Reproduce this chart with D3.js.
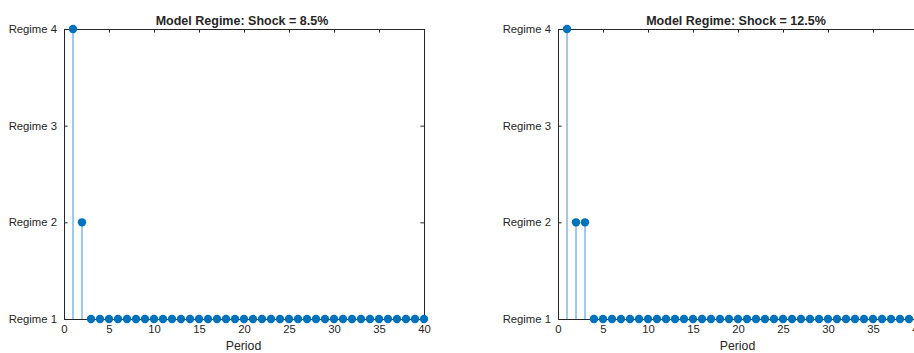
<!DOCTYPE html>
<html>
<head>
<meta charset="utf-8">
<script src="https://cdn.jsdelivr.net/npm/d3@7"></script>
<style>
  html, body { margin: 0; padding: 0; background: #fff; }
  svg { display: block; }
  text { font-family: "Liberation Sans", Arial, Helvetica, sans-serif; fill: #262626; }
</style>
</head>
<body>
<svg id="chart" width="914" height="353"></svg>
<script>
// Regime paths for each shock scenario (period 1..40)
const periods = d3.range(1, 41);
const regimeShock85 = [4, 2, 1, 1, 1, 1, 1, 1, 1, 1, 1, 1, 1, 1, 1, 1, 1, 1, 1, 1,
                       1, 1, 1, 1, 1, 1, 1, 1, 1, 1, 1, 1, 1, 1, 1, 1, 1, 1, 1, 1];
const regimeShock125 = [4, 2, 2, 1, 1, 1, 1, 1, 1, 1, 1, 1, 1, 1, 1, 1, 1, 1, 1, 1,
                        1, 1, 1, 1, 1, 1, 1, 1, 1, 1, 1, 1, 1, 1, 1, 1, 1, 1, 1, 1];
const panelTitles = ["Model Regime: Shock = 8.5%", "Model Regime: Shock = 12.5%"];
const xTicks = [0, 5, 10, 15, 20, 25, 30, 35, 40];
const yTicks = [1, 2, 3, 4];
const yTickLabels = ["Regime 1", "Regime 2", "Regime 3", "Regime 4"];
const xLabel = "Period";

const svg = d3.select("#chart");
const stemColor = "#0072BD";
const axisColor = "#262626";

const panels = [
  { left: 64, right: 424, title: panelTitles[0], values: regimeShock85 },
  { left: 558, right: 918, title: panelTitles[1], values: regimeShock125 }
];
const plotTop = 29, plotBottom = 319, tickLen = 3.6;

panels.forEach((p, i) => {
  const x = d3.scaleLinear().domain([0, 40]).range([p.left, p.right]);
  const y = d3.scaleLinear().domain([1, 4]).range([plotBottom, plotTop]);
  const g = svg.append("g");

  const clipId = "clip" + i;
  svg.append("clipPath").attr("id", clipId)
    .append("rect").attr("x", p.left).attr("y", plotTop)
    .attr("width", p.right - p.left).attr("height", plotBottom - plotTop);

  // axes box with inward ticks on all four sides
  const axB = d3.axisBottom(x).tickValues(xTicks).tickSizeInner(-tickLen).tickSizeOuter(0).tickPadding(6);
  const axT = d3.axisTop(x).tickValues(xTicks).tickSizeInner(-tickLen).tickSizeOuter(0).tickFormat("");
  const axL = d3.axisLeft(y).tickValues(yTicks).tickSizeInner(-tickLen).tickSizeOuter(0).tickPadding(7)
    .tickFormat((d, k) => yTickLabels[k]);
  const axR = d3.axisRight(y).tickValues(yTicks).tickSizeInner(-tickLen).tickSizeOuter(0).tickFormat("");

  const gb = g.append("g").attr("transform", `translate(0,${plotBottom})`).call(axB);
  const gt = g.append("g").attr("transform", `translate(0,${plotTop})`).call(axT);
  const gl = g.append("g").attr("transform", `translate(${p.left},0)`).call(axL);
  const gr = g.append("g").attr("transform", `translate(${p.right},0)`).call(axR);
  [gb, gt, gl, gr].forEach(a => {
    a.selectAll("path.domain").attr("stroke", axisColor).attr("stroke-width", 1);
    a.selectAll(".tick line").attr("stroke", axisColor).attr("stroke-width", 1);
    a.selectAll("text").attr("font-size", 11.3).attr("fill", axisColor)
      .style("font-family", '"Liberation Sans", Arial, sans-serif');
  });

  // stems drawn down to the zero baseline, clipped to the plot box
  g.append("g").attr("clip-path", `url(#${clipId})`)
    .selectAll("line").data(p.values).join("line")
    .attr("x1", (d, k) => x(periods[k])).attr("x2", (d, k) => x(periods[k]))
    .attr("y1", d => y(d)).attr("y2", y(0))
    .attr("stroke", stemColor).attr("stroke-opacity", 0.75).attr("stroke-width", 1);

  // markers
  g.append("g").selectAll("circle").data(p.values).join("circle")
    .attr("cx", (d, k) => x(periods[k])).attr("cy", d => y(d)).attr("r", 4.2)
    .attr("fill", stemColor);

  // title and x label
  g.append("text").attr("x", (p.left + p.right) / 2 - 2).attr("y", 25)
    .attr("text-anchor", "middle").attr("font-size", 12.5).attr("font-weight", "bold")
    .attr("fill", "#000").text(p.title);
  g.append("text").attr("x", (p.left + p.right) / 2 - 0.5).attr("y", 349.5)
    .attr("text-anchor", "middle").attr("font-size", 12.3).text(xLabel);
});
</script>
</body>
</html>
